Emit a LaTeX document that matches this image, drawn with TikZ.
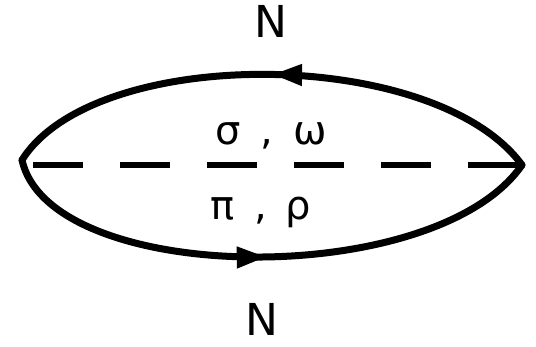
\documentclass[tikz,border=0pt]{standalone}
\usepackage{fontspec}
\setmainfont{DejaVu Sans}
\usetikzlibrary{arrows.meta,decorations.markings}
\begin{document}
\begin{tikzpicture}[x=1pt,y=1pt,
  line/.style={line width=7pt,line cap=round,line join=round},
  midarrow/.style={postaction={decorate,decoration={markings,
     mark=at position #1 with {\arrow{Triangle[length=30pt,width=20pt]}}}}},
  meson/.style={line width=6pt,dash pattern=on 50pt off 37pt,dash phase=76pt},
  lbl/.style={font=\fontsize{44}{48}\selectfont,inner sep=0pt,anchor=base},
  glbl/.style={font=\fontsize{40}{44}\selectfont,inner sep=0pt,anchor=base}]
\useasboundingbox (0,0) rectangle (536,346);
\coordinate (L) at (22,186);
\coordinate (R) at (522,181);
\draw[line,midarrow=0.50] (R) .. controls (435,300) and (95,302) .. (L);
\draw[line,midarrow=0.50] (L) .. controls (50,60) and (435,55) .. (R);
\draw[meson] (22,181) coordinate (D1) -- (522,181) coordinate (D2);
\node[lbl] (Ntop) at (271,308) {N};
\node[lbl] (Nbot) at (262,11) {N};
\node[glbl] (sw) at (271,201) {σ\hspace{20pt},\hspace{20pt}ω};
\node[glbl] (pr) at (261,126) {π\hspace{20pt},\hspace{18pt}ρ};
\end{tikzpicture}
\end{document}
